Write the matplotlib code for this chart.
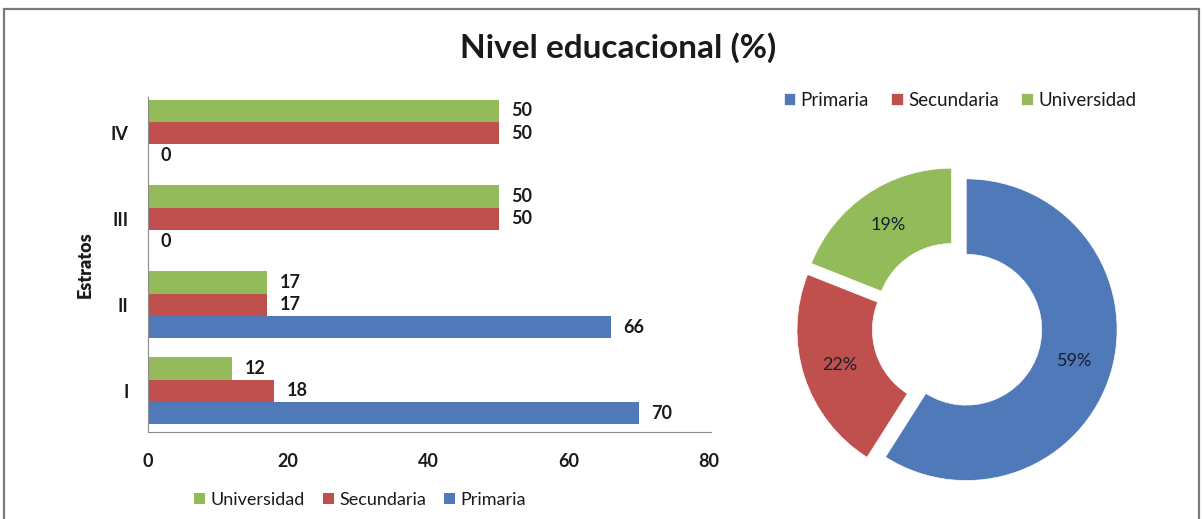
import matplotlib

matplotlib.use("Agg")

import matplotlib.pyplot as plt
import numpy as np
from matplotlib.patches import Rectangle

plt.rcParams["font.family"] = ["Lato", "DejaVu Sans"]

BLUE = "#4F79B9"
RED = "#C0504D"
GREEN = "#94BB59"
DARK = "#1a1a1a"

estratos = ["I", "II", "III", "IV"]
primaria = [70, 66, 0, 0]
secundaria = [18, 17, 50, 50]
universidad = [12, 17, 50, 50]

pie_labels = ["Primaria", "Secundaria", "Universidad"]
pie_values = [59, 22, 19]

fig = plt.figure(figsize=(12.03, 5.19), dpi=100)
fig.patch.set_facecolor("white")

# frame around the whole graphic
fig.patches.append(Rectangle((4 / 1203, -0.05), 1195 / 1203, 1.05 - 9 / 519,
                             transform=fig.transFigure, fill=False,
                             edgecolor="#7a7a7a", linewidth=1.6, clip_on=False))

fig.text(618 / 1203, 1 - 48 / 519, "Nivel educacional (%)", ha="center", va="center",
         fontsize=24, fontweight="bold", color=DARK)

# --- bar chart ---
ax = fig.add_axes([148 / 1203, 87 / 519, 563 / 1203, 335 / 519])
y = np.arange(len(estratos))
h = 0.26
b1 = ax.barh(y - h, primaria, height=h, color=BLUE, label="Primaria")
b2 = ax.barh(y, secundaria, height=h, color=RED, label="Secundaria")
b3 = ax.barh(y + h, universidad, height=h, color=GREEN, label="Universidad")
for bars in (b1, b2, b3):
    ax.bar_label(bars, padding=9, fontsize=13, fontweight="bold", color=DARK)

ax.set_xlim(0, 80.3)
ax.set_ylim(-0.48, 3.42)
ax.set_xticks([0, 20, 40, 60, 80])
ax.set_yticks(y)
ax.set_yticklabels(estratos)
ax.tick_params(axis="both", length=0, labelsize=13, colors=DARK)
ax.tick_params(axis="x", pad=15)
ax.tick_params(axis="y", pad=14)
for lab in ax.get_xticklabels() + ax.get_yticklabels():
    lab.set_fontweight("bold")
ax.set_ylabel("Estratos", fontsize=13, fontweight="heavy", color=DARK, labelpad=12)
ax.spines["top"].set_visible(False)
ax.spines["right"].set_visible(False)
ax.spines["left"].set_color("#8c8c8c")
ax.spines["bottom"].set_color("#8c8c8c")

fig.legend([b3, b2, b1], ["Universidad", "Secundaria", "Primaria"],
           loc="center", bbox_to_anchor=(360 / 1203, 1 - 500 / 519), ncol=3,
           frameon=False, fontsize=13, handlelength=0.6, handleheight=0.6,
           handletextpad=0.3, columnspacing=1.0, labelcolor=DARK)

# --- donut ---
ax2 = fig.add_axes([(957 - 181) / 1203, (192 - 181) / 519, 362 / 1203, 362 / 519])
wedges, _, autotexts = ax2.pie(
    pie_values, colors=[BLUE, RED, GREEN], startangle=90, counterclock=False,
    explode=[0.064, 0.064, 0.064], autopct="%1.0f%%", pctdistance=0.75,
    wedgeprops={"width": 0.5, "edgecolor": "white", "linewidth": 0.5},
    textprops={"fontsize": 13, "color": "#15202e"})
ax2.set_xlim(-1.2, 1.2)
ax2.set_ylim(-1.2, 1.2)
ax2.set_aspect("equal")

fig.legend(wedges, pie_labels, loc="center", bbox_to_anchor=(960 / 1203, 1 - 100 / 519),
           ncol=3, frameon=False, fontsize=13.5, handlelength=0.6, handleheight=0.6,
           handletextpad=0.3, columnspacing=1.2, labelcolor=DARK)

fig.savefig("out.png", dpi=100, facecolor="white")
